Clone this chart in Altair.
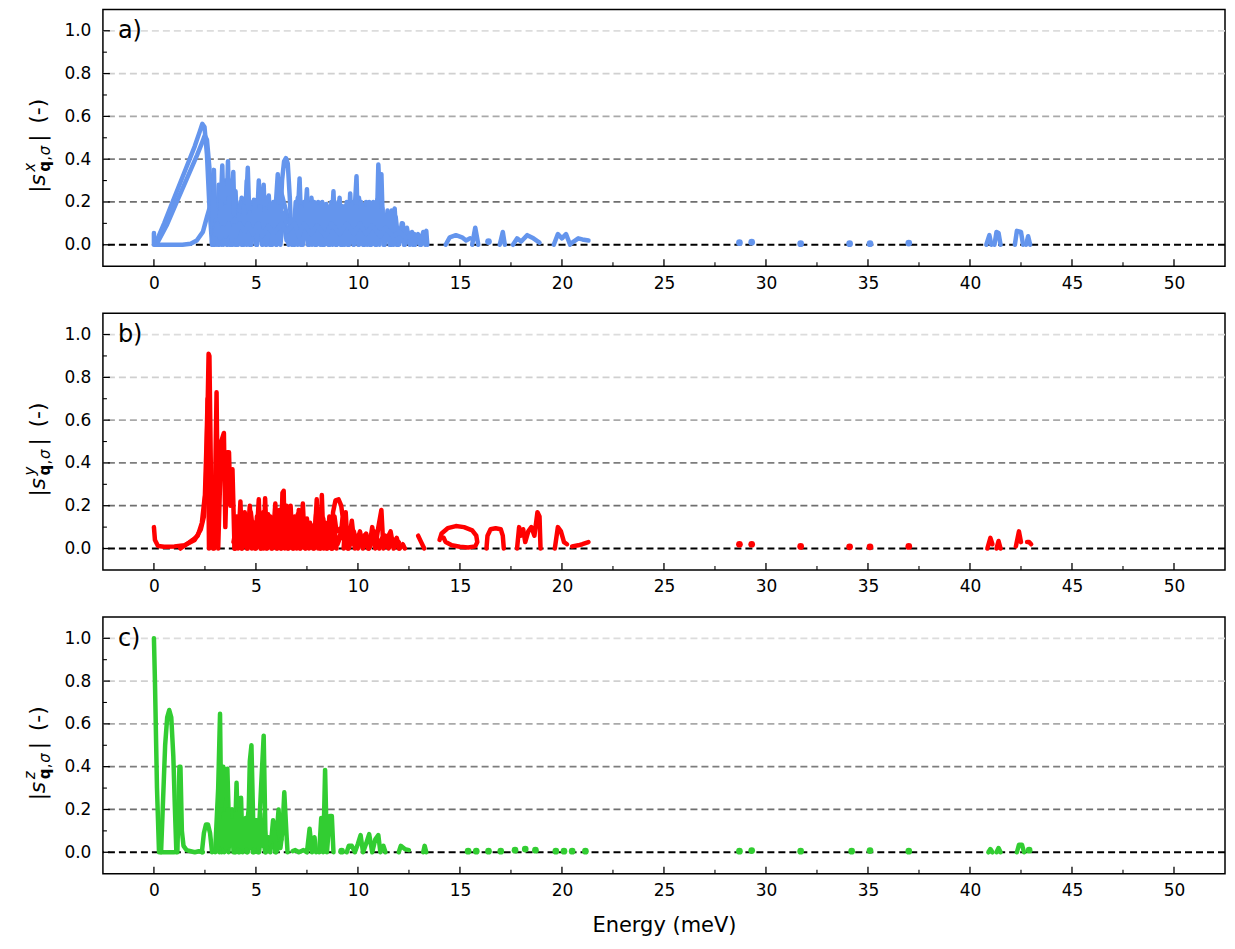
import altair as alt
import pandas as pd

X_DOMAIN = [-2.5, 52.5]
Y_DOMAIN = [-0.1, 1.1]
W, H = 1123, 257

X_MAJOR = [0, 5, 10, 15, 20, 25, 30, 35, 40, 45, 50]
X_MINOR = [2.5, 7.5, 12.5, 17.5, 22.5, 27.5, 32.5, 37.5, 42.5, 47.5]
Y_MAJOR = [0.0, 0.2, 0.4, 0.6, 0.8, 1.0]
Y_MINOR = [0.1, 0.3, 0.5, 0.7, 0.9]
GRID_V = [0.2, 0.4, 0.6, 0.8, 1.0]
GRID_C = ["#6f6f6f", "#7d7d7d", "#a9a9a9", "#d0d0d0", "#dcdcdc"]

# ---------------- panel a (x) ----------------
a_big1_x = [0.05, 0.5, 1.0, 1.5, 2.0, 2.25, 2.37, 2.48, 2.6, 2.72, 2.85]
a_big1_y = [0.0, 0.1, 0.22, 0.34, 0.46, 0.53, 0.565, 0.55, 0.42, 0.18, 0.0]
a_big2_x = [0.12, 0.62, 1.12, 1.62, 2.12, 2.37, 2.49, 2.6, 2.72, 2.84, 2.97]
a_big2_y = [0.0, 0.09, 0.2, 0.31, 0.42, 0.48, 0.51, 0.49, 0.36, 0.14, 0.0]
a_base_x = [0.0, 0.0, 0.2, 0.8, 1.4, 1.8, 2.1, 2.4, 2.6, 2.75, 2.9, 3.1, 3.3]
a_base_y = [0.055, 0.0, 0.0, 0.0, 0.0, 0.005, 0.02, 0.06, 0.13, 0.18, 0.16, 0.08, 0.02]
a_main_x = [2.85, 2.94, 3.02, 3.12, 3.2, 3.35, 3.45, 3.55, 3.63, 3.72,
            3.8, 3.89, 3.98, 4.1, 4.24, 4.35, 4.48, 4.6, 4.72, 4.82,
            4.9, 5.0, 5.14, 5.25, 5.38, 5.48, 5.56, 5.63, 5.75, 5.95,
            6.07, 6.15, 6.28, 6.38, 6.47, 6.56, 6.66, 6.75, 6.85, 7.0,
            7.14, 7.25, 7.4, 7.5, 7.6, 7.72, 7.8, 7.9, 8.1, 8.2,
            8.3, 8.42, 8.5, 8.6, 8.72, 8.8, 8.9, 9.0, 9.1, 9.2,
            9.32, 9.4, 9.5, 9.62, 9.72, 9.85, 9.93, 10.02, 10.12, 10.2,
            10.3, 10.42, 10.5, 10.6, 10.72, 10.8, 10.9, 11.0, 11.08, 11.15,
            11.25, 11.4, 11.5, 11.6, 11.72, 11.8, 11.9, 12.1, 12.2, 12.3,
            12.5, 12.6, 12.7, 12.9, 13.0, 13.1, 13.3, 13.35, 13.4]
a_main_y = [0.0, 0.35, 0.01, 0.15, 0.0, 0.37, 0.02, 0.1, 0.39, 0.0,
            0.15, 0.34, 0.0, 0.05, 0.2, 0.0, 0.1, 0.36, 0.0, 0.12,
            0.21, 0.0, 0.30, 0.02, 0.28, 0.0, 0.1, 0.23, 0.0, 0.15,
            0.33, 0.02, 0.3, 0.39, 0.405, 0.38, 0.22, 0.0, 0.1, 0.05,
            0.31, 0.0, 0.12, 0.26, 0.0, 0.1, 0.19, 0.0, 0.1, 0.19,
            0.0, 0.08, 0.12, 0.0, 0.1, 0.25, 0.0, 0.12, 0.22, 0.0,
            0.1, 0.15, 0.0, 0.24, 0.02, 0.18, 0.32, 0.0, 0.12, 0.19,
            0.0, 0.1, 0.19, 0.0, 0.08, 0.12, 0.0, 0.375, 0.2, 0.33,
            0.0, 0.1, 0.15, 0.0, 0.1, 0.17, 0.0, 0.06, 0.1, 0.0,
            0.03, 0.05, 0.0, 0.03, 0.04, 0.0, 0.05, 0.065, 0.0]
a_fill1_x = [2.9, 3.05, 3.15, 3.28, 3.4, 3.5, 3.6, 3.68, 3.78, 3.95,
             4.05, 4.15, 4.3, 4.4, 4.55, 4.68, 4.78, 4.95, 5.05, 5.2,
             5.32, 5.45, 5.52, 5.7, 5.8, 5.9, 6.0, 6.1, 6.2, 6.35,
             6.6, 6.7, 6.82, 6.95, 7.05, 7.2, 7.3, 7.45, 7.55, 7.65,
             7.75, 7.85, 7.95, 8.05, 8.15, 8.25, 8.35, 8.45, 8.55, 8.65,
             8.75, 8.85, 8.95, 9.05, 9.15, 9.25, 9.35, 9.45, 9.55, 9.68,
             9.78, 9.9, 10.05, 10.15, 10.25, 10.35, 10.45, 10.55, 10.65, 10.75,
             10.85, 10.95, 11.05, 11.2, 11.3, 11.45, 11.55, 11.65, 11.75, 11.85,
             12.0, 12.15, 12.25, 12.4, 12.55, 12.65, 12.8, 12.95, 13.05, 13.2, 13.3]
a_fill1_y = [0.0, 0.12, 0.0, 0.2, 0.0, 0.18, 0.0, 0.22, 0.0, 0.12,
             0.0, 0.14, 0.0, 0.18, 0.0, 0.15, 0.0, 0.2, 0.0, 0.18,
             0.0, 0.17, 0.0, 0.19, 0.0, 0.2, 0.0, 0.18, 0.0, 0.15,
             0.0, 0.12, 0.0, 0.2, 0.0, 0.18, 0.0, 0.2, 0.0, 0.19,
             0.0, 0.2, 0.0, 0.18, 0.0, 0.2, 0.0, 0.19, 0.0, 0.18,
             0.0, 0.2, 0.0, 0.19, 0.0, 0.18, 0.0, 0.2, 0.0, 0.19,
             0.0, 0.18, 0.0, 0.2, 0.0, 0.17, 0.0, 0.2, 0.0, 0.2,
             0.0, 0.21, 0.0, 0.17, 0.0, 0.14, 0.0, 0.16, 0.0, 0.13,
             0.0, 0.1, 0.0, 0.08, 0.0, 0.06, 0.0, 0.05, 0.0, 0.06, 0.0]
a_fill2_x = [3.0, 3.1, 3.25, 3.38, 3.52, 3.66, 3.82, 3.92, 4.0, 4.2,
             4.45, 4.62, 4.85, 5.1, 5.3, 5.6, 5.85, 6.25, 6.5, 6.9,
             7.1, 7.35, 7.7, 8.0, 8.4, 8.7, 9.1, 9.45, 9.8, 10.1,
             10.4, 10.7, 11.1, 11.35, 11.7, 12.05, 12.35, 12.75, 13.15]
a_fill2_y = [0.05, 0.1, 0.03, 0.08, 0.04, 0.1, 0.02, 0.09, 0.04, 0.1,
             0.06, 0.1, 0.05, 0.1, 0.04, 0.09, 0.05, 0.1, 0.06, 0.1,
             0.04, 0.1, 0.05, 0.09, 0.04, 0.1, 0.05, 0.1, 0.05, 0.1,
             0.05, 0.09, 0.04, 0.08, 0.04, 0.06, 0.03, 0.05, 0.03]
a_fill3_x = [3.05, 3.18, 3.3, 3.5, 3.58, 3.7, 3.85, 4.0, 4.12, 4.3,
             4.42, 4.55, 4.7, 4.85, 5.05, 5.2, 5.3, 5.5, 5.68, 5.85,
             6.0, 6.2, 6.9, 7.05, 7.2, 7.35, 7.6, 7.72, 7.95, 8.05,
             8.25, 8.4, 8.6, 8.7, 8.95, 9.05, 9.25, 9.4, 9.55, 9.7,
             9.8, 10.05, 10.3, 10.4, 10.6, 10.7, 10.9, 11.1, 11.3, 11.45,
             11.65, 11.78, 11.95]
a_fill3_y = [0.0, 0.28, 0.0, 0.3, 0.0, 0.3, 0.0, 0.25, 0.0, 0.22,
             0.0, 0.3, 0.0, 0.2, 0.0, 0.26, 0.0, 0.22, 0.0, 0.2,
             0.0, 0.26, 0.0, 0.22, 0.0, 0.2, 0.0, 0.22, 0.0, 0.2,
             0.0, 0.18, 0.0, 0.2, 0.0, 0.2, 0.0, 0.18, 0.0, 0.2,
             0.0, 0.22, 0.0, 0.2, 0.0, 0.18, 0.0, 0.2, 0.0, 0.16,
             0.0, 0.15, 0.0]
a_fill4_x = [2.95, 3.08, 3.22, 3.33, 3.47, 3.62, 3.75, 3.87, 4.02, 4.17,
             4.33, 4.5, 4.65, 4.8, 4.97, 5.12, 5.27, 5.42, 5.58, 5.72,
             5.88, 6.03, 6.18, 6.33, 6.5, 6.7, 6.88, 7.02, 7.17, 7.32,
             7.48, 7.62, 7.78, 7.92, 8.08, 8.22, 8.38, 8.52, 8.68, 8.82,
             8.98, 9.12, 9.28, 9.42, 9.58, 9.72, 9.88, 10.02, 10.18, 10.32,
             10.48, 10.62, 10.78, 10.92, 11.08, 11.22, 11.38, 11.52, 11.68, 11.82,
             11.98, 12.12, 12.28, 12.42, 12.58, 12.72, 12.88, 13.02, 13.18, 13.32]
a_fill4_y = [0.02, 0.12, 0.03, 0.1, 0.02, 0.13, 0.03, 0.11, 0.02, 0.12,
             0.03, 0.14, 0.02, 0.1, 0.03, 0.12, 0.02, 0.13, 0.03, 0.11,
             0.02, 0.12, 0.03, 0.14, 0.02, 0.1, 0.03, 0.12, 0.02, 0.13,
             0.03, 0.11, 0.02, 0.12, 0.03, 0.13, 0.02, 0.11, 0.03, 0.12,
             0.02, 0.13, 0.03, 0.11, 0.02, 0.12, 0.03, 0.13, 0.02, 0.11,
             0.03, 0.12, 0.02, 0.13, 0.03, 0.1, 0.02, 0.09, 0.03, 0.08,
             0.02, 0.07, 0.02, 0.06, 0.02, 0.05, 0.01, 0.04, 0.01, 0.05]
a_t1_x = [14.3, 14.5, 14.8, 15.1, 15.3, 15.5]
a_t1_y = [0.0, 0.035, 0.045, 0.035, 0.02, 0.03]
a_t2_x = [15.6, 15.75, 15.9]
a_t2_y = [0.0, 0.08, 0.0]
a_t3_x = [16.95, 17.1, 17.2]
a_t3_y = [0.0, 0.06, 0.0]
a_t4_x = [17.6, 17.8, 18.0, 18.3, 18.6, 18.9]
a_t4_y = [0.0, 0.03, 0.015, 0.045, 0.03, 0.01]
a_t5_x = [19.6, 19.8, 20.0, 20.2, 20.4]
a_t5_y = [0.0, 0.05, 0.03, 0.05, 0.0]
a_t6_x = [20.5, 20.8, 21.0, 21.3]
a_t6_y = [0.01, 0.03, 0.025, 0.02]
a_t7_x = [40.8, 40.95, 41.05]
a_t7_y = [0.0, 0.045, 0.0]
a_t8_x = [41.2, 41.3, 41.4, 41.5]
a_t8_y = [0.0, 0.06, 0.055, 0.0]
a_t9_x = [42.2, 42.3, 42.5, 42.6]
a_t9_y = [0.0, 0.065, 0.06, 0.0]
a_t10_x = [42.75, 42.85, 42.95]
a_t10_y = [0.0, 0.04, 0.0]
a_dot_x = [16.4, 28.7, 29.3, 31.7, 34.1, 35.1, 37.0]
a_dot_y = [0.015, 0.01, 0.012, 0.005, 0.005, 0.005, 0.008]

# ---------------- panel b (y) ----------------
b_t1_x = [0.0, 0.05, 0.2, 0.5, 1.0, 1.5, 2.0, 2.3, 2.45, 2.55, 2.62, 2.68, 2.72, 2.8, 2.9]
b_t1_y = [0.1, 0.04, 0.012, 0.008, 0.01, 0.015, 0.04, 0.09, 0.15, 0.3, 0.6, 0.91, 0.9, 0.3, 0.0]
b_t2_x = [1.3, 1.6, 1.9, 2.15, 2.35, 2.5, 2.58, 2.63, 2.7]
b_t2_y = [0.0, 0.02, 0.04, 0.06, 0.12, 0.25, 0.5, 0.7, 0.0]
b_t3_x = [2.95, 3.07, 3.15, 3.3, 3.43, 3.5, 3.6, 3.68, 3.75, 3.85, 3.95]
b_t3_y = [0.0, 0.73, 0.0, 0.5, 0.54, 0.1, 0.45, 0.45, 0.2, 0.37, 0.0]
b_main_x = [3.95, 4.05, 4.12, 4.24, 4.32, 4.45, 4.55, 4.7, 4.8, 4.9,
            5.0, 5.14, 5.22, 5.3, 5.38, 5.45, 5.55, 5.7, 5.8, 5.95,
            6.05, 6.15, 6.22, 6.3, 6.36, 6.42, 6.5, 6.6, 6.7, 6.8,
            6.9, 7.0, 7.1, 7.2, 7.3, 7.4, 7.5, 7.6, 7.7, 7.85,
            7.98, 8.05, 8.1, 8.17, 8.23, 8.32, 8.4, 8.5, 8.6, 8.7]
b_main_y = [0.0, 0.15, 0.0, 0.22, 0.0, 0.17, 0.0, 0.2, 0.0, 0.12,
            0.0, 0.23, 0.0, 0.15, 0.0, 0.235, 0.0, 0.15, 0.0, 0.21,
            0.0, 0.18, 0.0, 0.26, 0.27, 0.0, 0.2, 0.0, 0.2, 0.0,
            0.15, 0.0, 0.18, 0.0, 0.21, 0.0, 0.14, 0.0, 0.11, 0.0,
            0.23, 0.0, 0.18, 0.0, 0.25, 0.0, 0.12, 0.0, 0.15, 0.0]
b_loop_x = [8.7, 8.78, 8.9, 9.05, 9.18, 9.25, 9.2, 9.05, 8.92, 8.85, 8.88, 8.95]
b_loop_y = [0.0, 0.17, 0.225, 0.23, 0.2, 0.15, 0.1, 0.08, 0.1, 0.15, 0.05, 0.0]
b_tail_x = [9.3, 9.4, 9.5, 9.7, 9.85, 10.1, 10.25, 10.4, 10.55, 10.7,
            10.85, 11.0, 11.15, 11.25, 11.4, 11.6, 11.75, 11.9, 12.05, 12.2, 12.3]
b_tail_y = [0.0, 0.17, 0.0, 0.13, 0.0, 0.08, 0.0, 0.04, 0.0, 0.1,
            0.0, 0.1, 0.18, 0.0, 0.04, 0.08, 0.0, 0.05, 0.0, 0.02, 0.0]
b_fill_x = [4.0, 4.15, 4.3, 4.4, 4.6, 4.75, 4.95, 5.05, 5.25, 5.35,
            5.5, 5.6, 5.75, 5.85, 6.0, 6.1, 6.25, 6.45, 6.55, 6.75,
            6.85, 7.05, 7.15, 7.35, 7.45, 7.65, 7.8, 7.95, 8.15, 8.3,
            8.45, 8.55, 8.75, 9.35, 9.55, 9.8, 10.0, 10.3, 10.5, 10.8,
            11.05, 11.35, 11.5, 11.8, 12.0]
b_fill_y = [0.0, 0.12, 0.0, 0.15, 0.0, 0.17, 0.0, 0.15, 0.0, 0.17,
            0.0, 0.16, 0.0, 0.14, 0.0, 0.16, 0.0, 0.17, 0.0, 0.15,
            0.0, 0.16, 0.0, 0.14, 0.0, 0.12, 0.0, 0.16, 0.0, 0.14,
            0.0, 0.12, 0.0, 0.1, 0.0, 0.08, 0.0, 0.06, 0.0, 0.08,
            0.0, 0.06, 0.0, 0.04, 0.0]
b_fill2_x = [3.9, 4.03, 4.18, 4.33, 4.48, 4.63, 4.78, 4.93, 5.08, 5.23,
             5.38, 5.53, 5.68, 5.83, 5.98, 6.13, 6.28, 6.43, 6.58, 6.73,
             6.88, 7.03, 7.18, 7.33, 7.48, 7.63, 7.78, 7.93, 8.08, 8.23,
             8.38, 8.53, 8.68, 8.83, 9.0, 9.2, 9.4, 9.6, 9.8, 10.0,
             10.2, 10.4, 10.6, 10.8, 11.0, 11.2, 11.4, 11.6, 11.8, 12.0]
b_fill2_y = [0.03, 0.1, 0.02, 0.11, 0.03, 0.1, 0.02, 0.12, 0.03, 0.1,
             0.02, 0.11, 0.03, 0.12, 0.02, 0.1, 0.03, 0.11, 0.02, 0.12,
             0.03, 0.1, 0.02, 0.11, 0.03, 0.1, 0.02, 0.11, 0.03, 0.1,
             0.02, 0.11, 0.03, 0.08, 0.02, 0.07, 0.02, 0.08, 0.02, 0.06,
             0.02, 0.07, 0.01, 0.06, 0.02, 0.05, 0.01, 0.05, 0.01, 0.03]
b_t4_x = [12.95, 13.1, 13.25]
b_t4_y = [0.06, 0.03, 0.0]
b_t5_x = [14.0, 14.1, 14.4, 14.8, 15.2, 15.6, 15.8, 15.85, 15.75, 15.4, 15.0, 14.6, 14.3, 14.2]
b_t5_y = [0.04, 0.07, 0.095, 0.105, 0.1, 0.085, 0.06, 0.03, 0.01, 0.005, 0.008, 0.015, 0.03, 0.05]
b_t6_x = [16.3, 16.35, 16.5, 16.75, 17.0, 17.1, 17.15]
b_t6_y = [0.0, 0.06, 0.09, 0.095, 0.09, 0.06, 0.0]
b_t7_x = [17.8, 17.9, 18.0, 18.1, 18.2, 18.35, 18.5, 18.65, 18.8, 18.9, 18.95]
b_t7_y = [0.0, 0.1, 0.06, 0.09, 0.03, 0.08, 0.1, 0.06, 0.17, 0.15, 0.0]
b_t8_x = [19.65, 19.8, 19.95, 20.1, 20.25]
b_t8_y = [0.0, 0.1, 0.08, 0.03, 0.02]
b_t9_x = [20.5, 20.8, 21.0, 21.3]
b_t9_y = [0.01, 0.015, 0.02, 0.03]
b_t10_x = [40.85, 41.0, 41.1]
b_t10_y = [0.0, 0.05, 0.02]
b_t11_x = [41.3, 41.4, 41.5]
b_t11_y = [0.0, 0.035, 0.0]
b_t12_x = [42.25, 42.4, 42.5]
b_t12_y = [0.01, 0.08, 0.03]
b_t13_x = [42.8, 42.9, 43.0]
b_t13_y = [0.03, 0.03, 0.02]
b_dot_x = [28.7, 29.3, 31.7, 34.1, 35.1, 37.0]
b_dot_y = [0.02, 0.02, 0.01, 0.008, 0.008, 0.01]

# ---------------- panel c (z) ----------------
c_t1_x = [0.0, 0.05, 0.15, 0.25, 0.4, 0.6, 0.8, 1.0]
c_t1_y = [1.0, 0.8, 0.3, 0.0, 0.0, 0.0, 0.0, 0.0]
c_t2_x = [0.35, 0.45, 0.55, 0.65, 0.75, 0.85, 0.95, 1.03, 1.1]
c_t2_y = [0.0, 0.25, 0.5, 0.63, 0.665, 0.63, 0.45, 0.2, 0.0]
c_t3_x = [1.15, 1.25, 1.3, 1.37, 1.45, 1.6, 1.8, 2.0, 2.2, 2.4]
c_t3_y = [0.0, 0.4, 0.4, 0.1, 0.03, 0.01, 0.005, 0.0, 0.005, 0.0]
c_t4_x = [2.35, 2.45, 2.55, 2.65, 2.75, 2.85]
c_t4_y = [0.0, 0.09, 0.13, 0.13, 0.09, 0.0]
c_main_x = [3.0, 3.15, 3.24, 3.32, 3.4, 3.5, 3.6, 3.7, 3.85, 3.9,
            3.95, 4.05, 4.15, 4.27, 4.35, 4.5, 4.6, 4.7, 4.78, 4.9,
            5.0, 5.1, 5.25, 5.38, 5.48, 5.6, 5.7, 5.84, 5.95, 6.11,
            6.2, 6.3, 6.39, 6.5, 6.55]
c_main_y = [0.0, 0.3, 0.647, 0.0, 0.4, 0.1, 0.39, 0.05, 0.2, 0.0,
            0.0, 0.325, 0.0, 0.255, 0.0, 0.16, 0.0, 0.425, 0.5, 0.0,
            0.15, 0.0, 0.3, 0.545, 0.0, 0.07, 0.0, 0.15, 0.0, 0.2,
            0.02, 0.1, 0.28, 0.08, 0.0]
c_fill_x = [3.2, 3.3, 3.45, 3.55, 3.65, 3.8, 4.0, 4.1, 4.2, 4.4,
            4.55, 4.65, 4.85, 5.05, 5.15, 5.3, 5.45, 5.9, 6.0, 6.25]
c_fill_y = [0.0, 0.2, 0.0, 0.25, 0.0, 0.2, 0.0, 0.2, 0.0, 0.12,
            0.0, 0.2, 0.0, 0.1, 0.0, 0.12, 0.0, 0.1, 0.0, 0.06]
c_fill2_x = [3.12, 3.22, 3.35, 3.43, 3.52, 3.62, 3.72, 3.82, 3.92, 4.02,
             4.12, 4.22, 4.32, 4.42, 4.52, 4.62, 4.72, 4.82, 4.92, 5.02,
             5.12, 5.22, 5.32, 5.42, 5.52]
c_fill2_y = [0.02, 0.15, 0.03, 0.18, 0.02, 0.2, 0.03, 0.15, 0.02, 0.18,
             0.03, 0.2, 0.02, 0.15, 0.03, 0.18, 0.02, 0.2, 0.03, 0.15,
             0.02, 0.18, 0.03, 0.12, 0.02]
c_t5_x = [6.8, 6.93, 7.1, 7.33, 7.5, 7.63, 7.75, 7.87, 7.95]
c_t5_y = [0.005, 0.01, 0.0, 0.01, 0.0, 0.11, 0.0, 0.07, 0.0]
c_t6_x = [8.1, 8.2, 8.3, 8.39, 8.48, 8.62, 8.72, 8.8]
c_t6_y = [0.0, 0.16, 0.0, 0.385, 0.0, 0.17, 0.17, 0.0]
c_t7_x = [9.45, 9.55, 9.7, 9.85, 10.0, 10.13, 10.25, 10.4, 10.55, 10.7, 10.85, 11.0, 11.1, 11.25, 11.35]
c_t7_y = [0.0, 0.03, 0.03, 0.0, 0.04, 0.08, 0.0, 0.04, 0.085, 0.0, 0.06, 0.08, 0.0, 0.03, 0.0]
c_t8_x = [12.0, 12.1, 12.3, 12.5]
c_t8_y = [0.0, 0.03, 0.015, 0.01]
c_t9_x = [13.2, 13.27, 13.35]
c_t9_y = [0.0, 0.03, 0.0]
c_t10_x = [40.9, 41.0, 41.1]
c_t10_y = [0.0, 0.015, 0.0]
c_t11_x = [41.3, 41.4, 41.5]
c_t11_y = [0.0, 0.02, 0.0]
c_t12_x = [42.3, 42.4, 42.55, 42.65]
c_t12_y = [0.0, 0.035, 0.035, 0.0]
c_dot_x = [9.2, 15.4, 15.8, 16.4, 17.0, 17.7, 18.2, 18.7, 19.7, 20.1, 20.5, 21.15,
           28.7, 29.3, 31.7, 34.2, 35.1, 37.0, 42.9]
c_dot_y = [0.005, 0.005, 0.005, 0.005, 0.005, 0.01, 0.015, 0.01, 0.005, 0.005, 0.005, 0.005,
           0.005, 0.008, 0.005, 0.005, 0.008, 0.005, 0.01]

A_TRACES = [(a_big1_x, a_big1_y), (a_big2_x, a_big2_y), (a_base_x, a_base_y),
            (a_fill4_x, a_fill4_y), (a_fill3_x, a_fill3_y),
            (a_main_x, a_main_y), (a_fill1_x, a_fill1_y), (a_fill2_x, a_fill2_y),
            (a_t1_x, a_t1_y), (a_t2_x, a_t2_y), (a_t3_x, a_t3_y), (a_t4_x, a_t4_y),
            (a_t5_x, a_t5_y), (a_t6_x, a_t6_y), (a_t7_x, a_t7_y), (a_t8_x, a_t8_y),
            (a_t9_x, a_t9_y), (a_t10_x, a_t10_y)]
B_TRACES = [(b_t1_x, b_t1_y), (b_t2_x, b_t2_y), (b_t3_x, b_t3_y), (b_main_x, b_main_y),
            (b_loop_x, b_loop_y), (b_tail_x, b_tail_y), (b_fill_x, b_fill_y),
            (b_fill2_x, b_fill2_y),
            (b_t4_x, b_t4_y), (b_t5_x, b_t5_y), (b_t6_x, b_t6_y), (b_t7_x, b_t7_y),
            (b_t8_x, b_t8_y), (b_t9_x, b_t9_y), (b_t10_x, b_t10_y), (b_t11_x, b_t11_y),
            (b_t12_x, b_t12_y), (b_t13_x, b_t13_y)]
C_TRACES = [(c_t1_x, c_t1_y), (c_t2_x, c_t2_y), (c_t3_x, c_t3_y), (c_t4_x, c_t4_y),
            (c_main_x, c_main_y), (c_fill_x, c_fill_y), (c_fill2_x, c_fill2_y),
            (c_t5_x, c_t5_y), (c_t6_x, c_t6_y),
            (c_t7_x, c_t7_y), (c_t8_x, c_t8_y), (c_t9_x, c_t9_y), (c_t10_x, c_t10_y),
            (c_t11_x, c_t11_y), (c_t12_x, c_t12_y)]

FONT = "DejaVu Sans"
xs = alt.Scale(domain=X_DOMAIN, nice=False, zero=False)
ys = alt.Scale(domain=Y_DOMAIN, nice=False, zero=False)
Y_AX = alt.Axis(values=Y_MAJOR, format=".1f", ticks=False, domain=False, grid=False,
                labelPadding=12, labelFontSize=17, title=None)


def x_axis(bottom):
    return alt.Axis(values=X_MAJOR, ticks=False, domain=False, grid=False,
                    labelPadding=9, labelFontSize=17,
                    title="Energy (meV)" if bottom else None,
                    titleFontSize=21, titleFontWeight="normal", titlePadding=16)


def ylabel_layers(sup):
    c = H / 2
    xb = -58
    pieces = [
        ("|", xb, c + 55, 22, "normal", "normal"),
        ("s", xb, c + 48, 22, "italic", "normal"),
        (sup, xb - 10, c + 34, 15, "italic", "normal"),
        ("q", xb + 5, c + 34, 15, "normal", "bold"),
        (",", xb + 5, c + 23, 15, "normal", "normal"),
        ("σ", xb + 5, c + 17.5, 15, "italic", "normal"),
        ("|", xb, c + 4, 22, "normal", "normal"),
        ("(-)", xb, c - 14, 22, "normal", "normal"),
    ]
    out = []
    for txt, px, py, fs, st, wt in pieces:
        out.append(alt.Chart(pd.DataFrame({"k": [0]})).mark_text(
            text=txt, angle=270, align="left", baseline="alphabetic",
            fontSize=fs, fontStyle=st, fontWeight=wt, font=FONT, color="black"
        ).encode(x=alt.value(px), y=alt.value(py)))
    return out


def panel(traces, dot_x, dot_y, color, letter, sup, bottom):
    XA = x_axis(bottom)
    rows = []
    for t, (tx, ty) in enumerate(traces):
        for j, (xv, yv) in enumerate(zip(tx, ty)):
            rows.append({"t": t, "j": j, "x": xv, "y": yv})
    df = pd.DataFrame(rows)

    grid = alt.Chart(pd.DataFrame({"v": GRID_V, "c": GRID_C})).mark_rule(
        strokeDash=[7, 4], strokeWidth=1.8
    ).encode(
        y=alt.Y("v:Q", scale=ys, axis=Y_AX),
        color=alt.Color("c:N", scale=None),
    )
    zero = alt.Chart(pd.DataFrame({"v": [0.0]})).mark_rule(
        strokeDash=[7, 4], strokeWidth=2, color="black"
    ).encode(y=alt.Y("v:Q", scale=ys, axis=Y_AX))

    lines = alt.Chart(df).mark_line(
        strokeWidth=4.5, strokeCap="round", strokeJoin="round", color=color
    ).encode(
        x=alt.X("x:Q", scale=xs, axis=XA),
        y=alt.Y("y:Q", scale=ys, axis=Y_AX),
        detail="t:N",
        order="j:Q",
    )
    dots = alt.Chart(pd.DataFrame({"x": dot_x, "y": dot_y})).mark_circle(
        size=45, opacity=1, color=color
    ).encode(x=alt.X("x:Q", scale=xs, axis=XA), y=alt.Y("y:Q", scale=ys, axis=Y_AX))

    xt_major = alt.Chart(pd.DataFrame({"v": X_MAJOR})).mark_rule(color="black", strokeWidth=1.3).encode(
        x=alt.X("v:Q", scale=xs, axis=XA), y=alt.value(H), y2=alt.value(H - 7))
    xt_minor = alt.Chart(pd.DataFrame({"v": X_MINOR})).mark_rule(color="black", strokeWidth=1.1).encode(
        x=alt.X("v:Q", scale=xs, axis=XA), y=alt.value(H), y2=alt.value(H - 4))
    yt_major = alt.Chart(pd.DataFrame({"v": Y_MAJOR})).mark_rule(color="black", strokeWidth=1.3).encode(
        y=alt.Y("v:Q", scale=ys, axis=Y_AX), x=alt.value(0), x2=alt.value(7))
    yt_minor = alt.Chart(pd.DataFrame({"v": Y_MINOR})).mark_rule(color="black", strokeWidth=1.1).encode(
        y=alt.Y("v:Q", scale=ys, axis=Y_AX), x=alt.value(0), x2=alt.value(4))

    lab = alt.Chart(pd.DataFrame({"k": [0]})).mark_text(
        text=letter, align="left", baseline="alphabetic", fontSize=24, font=FONT, color="black"
    ).encode(x=alt.value(15), y=alt.value(29))

    layers = [grid, zero, lines, dots, xt_major, xt_minor, yt_major, yt_minor, lab] + ylabel_layers(sup)
    return alt.layer(*layers).properties(width=W, height=H)


pa = panel(A_TRACES, a_dot_x, a_dot_y, "#6495ED", "a)", "x", False)
pb = panel(B_TRACES, b_dot_x, b_dot_y, "#FF0000", "b)", "y", False)
pc = panel(C_TRACES, c_dot_x, c_dot_y, "#32CD32", "c)", "z", True)

chart = alt.vconcat(pa, pb, pc, spacing=47, bounds="flush").properties(
    padding={"left": 14, "top": 0, "right": 0, "bottom": 0}
).configure_view(stroke="black", strokeWidth=1.5).configure_axis(
    labelFont=FONT, titleFont=FONT, labelColor="black", titleColor="black"
)

chart.save("out.html", embed_options={"renderer": "svg", "actions": False})
